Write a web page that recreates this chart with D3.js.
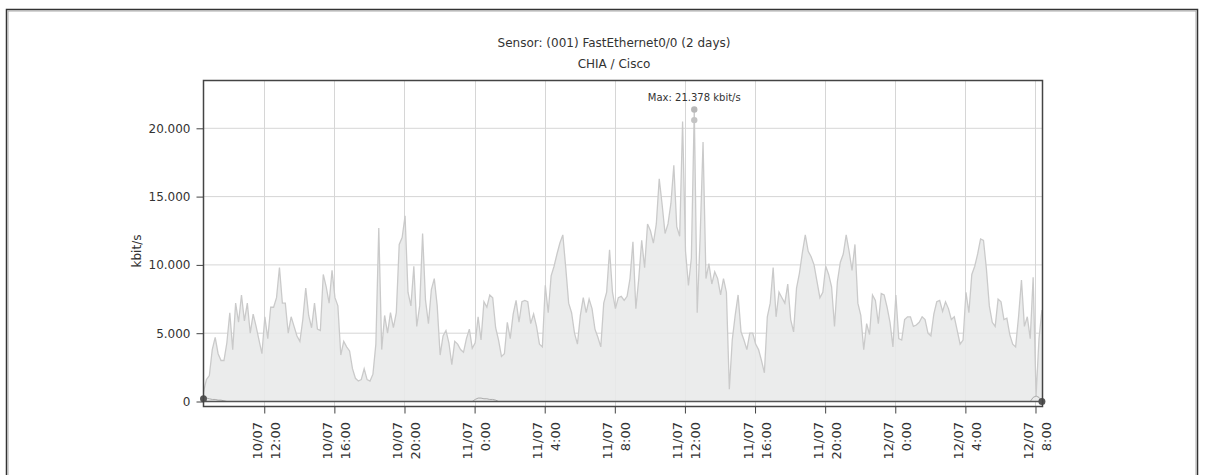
<!DOCTYPE html>
<html>
<head>
<meta charset="utf-8">
<script src="https://cdn.jsdelivr.net/npm/d3@7"></script>
<style>
  body { margin: 0; background: #fff; }
  svg text { font-family: "DejaVu Sans", Verdana, sans-serif; fill: #333; }
</style>
</head>
<body>
<svg id="chart"></svg>
<script>
// sensor title lines
var titleLines = ["Sensor: (001) FastEthernet0/0 (2 days)", "CHIA / Cisco"];
var unitLabel = "kbit/s";

// first sample and sampling step (minutes)
var startTime = new Date(2013, 6, 10, 8, 32);
var endTime = new Date(2013, 6, 12, 8, 24);
var stepMinutes = 10;

// traffic total, kbit/s, one value every 10 minutes
var totalValues = [
  700, 1600, 1900, 3800, 4700, 3500, 3000, 3000, 4300, 6500, 3800, 7200,
  5800, 7800, 5900, 7200, 5000, 6400, 5500, 4500, 3500, 6200, 4600, 6900,
  6900, 7600, 9800, 7200, 7200, 5000, 6200, 5500, 4800, 4400, 6000, 8300,
  6300, 5400, 7200, 5300, 5200, 9300, 8400, 7200, 9600, 7600, 7000, 3400,
  4400, 4000, 3700, 2400, 1700, 1500, 1600, 2400, 1600, 1500, 2000, 4200,
  12700, 3800, 6300, 5000, 6500, 5400, 6500, 11500, 12000, 13600, 8000, 7000,
  9900, 5500, 7000, 12300, 7400, 5700, 8200, 9000, 7000, 3400, 4800, 5200,
  4300, 2700, 4400, 4200, 3800, 3600, 4600, 5300, 3900, 4300, 6200, 4500,
  7300, 6900, 7800, 7600, 5400, 4500, 3300, 3500, 5800, 4600, 6400, 7400,
  5800, 7300, 7400, 7300, 5700, 6400, 5500, 4200, 4000, 8500, 6500, 9200,
  9900, 10800, 11600, 12200, 9800, 7200, 6500, 5000, 4200, 6300, 7600, 6500,
  7500, 6800, 5300, 4700, 4000, 7200, 8000, 11100, 8000, 6800, 7600, 7700,
  7400, 7700, 9000, 11700, 6800, 9000, 11800, 9800, 13000, 12500, 11600, 13000,
  16300, 14400, 12300, 13000, 14500, 17300, 12800, 12100, 20500, 11000, 8500, 10500,
  21378, 6500, 12000, 19000, 9000, 10100, 8600, 9500, 9000, 7800, 9000, 8000,
  900, 4500, 6300, 7800, 5100, 4500, 3800, 5000, 5000, 4200, 3800, 3000,
  2100, 6200, 7200, 9800, 6200, 8000, 7600, 7200, 8600, 6000, 5100, 8300,
  9400, 10900, 12200, 11000, 10600, 10000, 8800, 7600, 8000, 9900, 9300, 8400,
  5500, 8800, 10200, 10800, 12200, 11000, 9600, 11500, 7200, 6300, 3800, 5700,
  4900, 7800, 7400, 5700, 7900, 7800, 6900, 5800, 4000, 7800, 4600, 4500,
  6000, 6200, 6200, 5500, 5600, 5800, 6200, 6000, 5000, 4800, 6400, 7300,
  7400, 6600, 7300, 6800, 6000, 6200, 5200, 4200, 4500, 8000, 6500, 9300,
  9900, 10800, 11900, 11800, 9700, 7000, 5800, 5500, 7500, 7300, 6000, 6100,
  4900, 4200, 4000, 6200, 8900, 5500, 6200, 4600, 9100, 400, 4600, 6700
];

// second channel, near zero, same sampling
var lowValues = [
  200, 250, 200, 150, 150, 100, 100, 50, 0, 0, 0, 0,
  0, 0, 0, 0, 0, 0, 0, 0, 0, 0, 0, 0,
  0, 0, 0, 0, 0, 0, 0, 0, 0, 0, 0, 0,
  0, 0, 0, 0, 0, 0, 0, 0, 0, 0, 0, 0,
  0, 0, 0, 0, 0, 0, 0, 0, 0, 0, 0, 0,
  0, 0, 0, 0, 0, 0, 0, 0, 0, 0, 0, 0,
  0, 0, 0, 0, 0, 0, 0, 0, 0, 0, 0, 0,
  0, 0, 0, 0, 0, 0, 0, 0, 0, 150, 250, 250,
  200, 200, 150, 150, 100, 0, 0, 0, 0, 0, 0, 0,
  0, 0, 0, 0, 0, 0, 0, 0, 0, 0, 0, 0,
  0, 0, 0, 0, 0, 0, 0, 0, 0, 0, 0, 0,
  0, 0, 0, 0, 0, 0, 0, 0, 0, 0, 0, 0,
  0, 0, 0, 0, 0, 0, 0, 0, 0, 0, 0, 0,
  0, 0, 0, 0, 0, 0, 0, 0, 0, 0, 0, 0,
  0, 0, 0, 0, 0, 0, 0, 0, 0, 0, 0, 0,
  0, 0, 0, 0, 0, 0, 0, 0, 0, 0, 0, 0,
  0, 0, 0, 0, 0, 0, 0, 0, 0, 0, 0, 0,
  0, 0, 0, 0, 0, 0, 0, 0, 0, 0, 0, 0,
  0, 0, 0, 0, 0, 0, 0, 0, 0, 0, 0, 0,
  0, 0, 0, 0, 0, 0, 0, 0, 0, 0, 0, 0,
  0, 0, 0, 0, 0, 0, 0, 0, 0, 0, 0, 0,
  0, 0, 0, 0, 0, 0, 0, 0, 0, 0, 0, 0,
  0, 0, 0, 0, 0, 0, 0, 0, 0, 0, 0, 0,
  0, 0, 0, 0, 0, 0, 0, 0, 300, 400, 300, 0
];

// peak of the "in" channel shown under the max marker
var inPeak = 20600;

var yTicks = [0, 5000, 10000, 15000, 20000];
var yMax = 23500;

//layout
var width = 1206, height = 475;
var plot_left = 203.5, plot_right = 1042.5, plot_top = 80.5, plot_bottom = 406.5, zero_y = 401.5;

var fmt = d3.formatLocale({ decimal: ",", thousands: ".", grouping: [3], currency: ["", ""] }).format(",d");
var fmtDay = d3.timeFormat("%d/%m");
var fmtHour = d3.timeFormat("%-H:%M");

var svg = d3.select("#chart").attr("width", width).attr("height", height);

//outer frame
svg.append("rect").attr("x", 6.5).attr("y", 9.5).attr("width", 1191).attr("height", 480)
    .style("fill", "none").style("stroke", "#333").style("stroke-width", 1.5);
svg.append("rect").attr("x", 8).attr("y", 11).attr("width", 1188).attr("height", 480)
    .style("fill", "none").style("stroke", "#aaa").style("stroke-width", 1);

var x = d3.scaleTime().domain([startTime, endTime]).range([plot_left, plot_right]);
var y = d3.scaleLinear().domain([0, yMax]).range([zero_y, plot_top]);

var total = totalValues.map((v, i) => ({ t: d3.timeMinute.offset(startTime, i * stepMinutes), v: v }));
var low = lowValues.map((v, i) => ({ t: d3.timeMinute.offset(startTime, i * stepMinutes), v: v }));

var xTicks = x.ticks(d3.timeHour.every(4));

svg.append("clipPath").attr("id", "clip").append("rect")
    .attr("x", plot_left).attr("y", plot_top).attr("width", plot_right - plot_left).attr("height", plot_bottom - plot_top);

//grid
var grid = svg.append("g");
grid.selectAll(".hg").data(yTicks.filter(d => d > 0)).enter().append("line")
    .attr("x1", plot_left).attr("x2", plot_right).attr("y1", d => y(d)).attr("y2", d => y(d))
    .style("stroke", "#d6d6d6").style("stroke-width", 1);
grid.selectAll(".vg").data(xTicks).enter().append("line")
    .attr("x1", d => Math.round(x(d)) + 0.5).attr("x2", d => Math.round(x(d)) + 0.5)
    .attr("y1", plot_top).attr("y2", plot_bottom)
    .style("stroke", "#d6d6d6").style("stroke-width", 1);

var chart = svg.append("g").attr("clip-path", "url(#clip)");

var area = d3.area().x(d => x(d.t)).y0(y(0)).y1(d => y(d.v));
var line = d3.line().x(d => x(d.t)).y(d => y(d.v));

chart.append("path").datum(total).attr("d", area).style("fill", "#e9eaea").style("fill-opacity", 0.9);
chart.append("path").datum(total).attr("d", line)
    .style("fill", "none").style("stroke", "#cacaca").style("stroke-width", 1.3);

//zero line
svg.append("line").attr("x1", plot_left).attr("x2", plot_right).attr("y1", y(0)).attr("y2", y(0))
    .style("stroke", "#555").style("stroke-width", 1.6);

chart.append("path").datum(low).attr("d", line)
    .style("fill", "none").style("stroke", "#aaa").style("stroke-width", 1);

//end dots of the low channel
svg.selectAll(".enddot").data([low[0], low[low.length - 1]]).enter().append("circle")
    .attr("cx", d => x(d.t)).attr("cy", d => y(d.v)).attr("r", 3.5)
    .style("fill", "#555");

//max marker
var maxPt = total.reduce((a, b) => (b.v > a.v ? b : a));
svg.append("circle").attr("cx", x(maxPt.t)).attr("cy", y(maxPt.v)).attr("r", 3.2).style("fill", "#b8b8b8");
svg.append("circle").attr("cx", x(maxPt.t)).attr("cy", y(inPeak)).attr("r", 3.2).style("fill", "#c4c4c4");
svg.append("text").attr("x", x(maxPt.t)).attr("y", 100.5).attr("text-anchor", "middle")
    .style("font-size", "10px").text("Max: " + fmt(maxPt.v) + " kbit/s");

//plot frame
svg.append("rect").attr("x", plot_left).attr("y", plot_top)
    .attr("width", plot_right - plot_left).attr("height", plot_bottom - plot_top)
    .style("fill", "none").style("stroke", "#444").style("stroke-width", 1.5);

//y axis
var yAxis = svg.append("g").attr("transform", `translate(${plot_left},0)`)
    .call(d3.axisLeft(y).tickValues(yTicks).tickSize(7).tickPadding(6).tickFormat(fmt));
yAxis.select(".domain").remove();
yAxis.selectAll(".tick line").style("stroke", "#444");
yAxis.selectAll(".tick text").style("font-size", "12px").style("font-family", "DejaVu Sans").style("fill", "#333");

//x axis
var xAxis = svg.append("g").attr("transform", `translate(0,${plot_bottom})`)
    .call(d3.axisBottom(x).tickValues(xTicks).tickSize(7).tickFormat(""));
xAxis.select(".domain").remove();
xAxis.selectAll(".tick line").style("stroke", "#444");
xAxis.selectAll(".tick").each(function (d) {
    var t = d3.select(this).append("text")
        .attr("transform", "translate(0,15.5) rotate(-90)")
        .attr("text-anchor", "end")
        .style("font-size", "13px").style("fill", "#333");
    t.append("tspan").attr("x", 0).attr("y", -3).text(fmtDay(d));
    t.append("tspan").attr("x", 0).attr("y", 15).text(fmtHour(d));
});

//titles
svg.selectAll(".title").data(titleLines).enter().append("text")
    .attr("x", 614).attr("y", (d, i) => 47 + i * 21).attr("text-anchor", "middle")
    .style("font-size", "12px").text(d => d);

svg.append("text").attr("transform", "translate(141,251) rotate(-90)").attr("text-anchor", "middle")
    .style("font-size", "12px").text(unitLabel);
</script>
</body>
</html>
